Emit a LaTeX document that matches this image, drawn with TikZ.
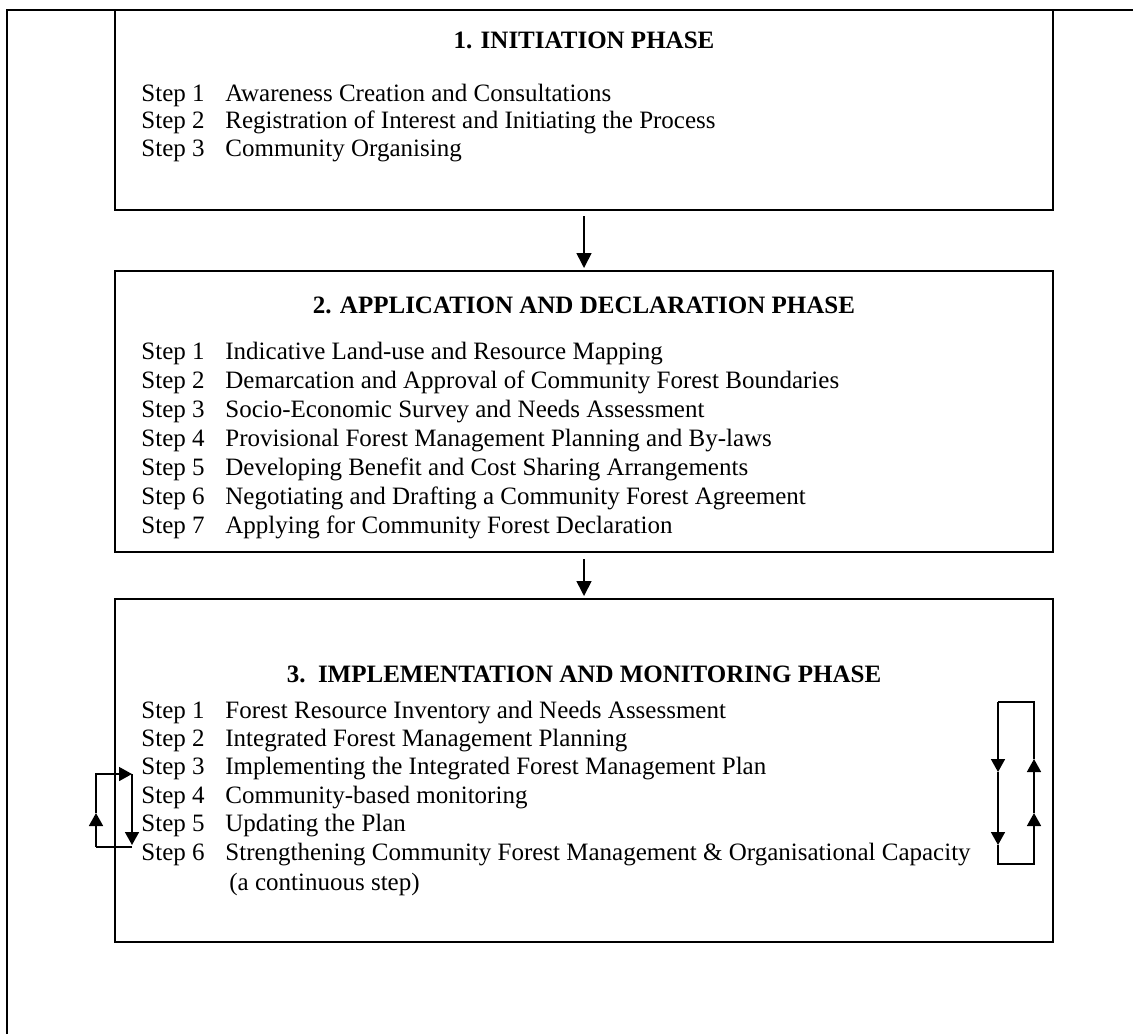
\documentclass[tikz,border=0pt]{standalone}
\usepackage{fontspec}
\setmainfont{Liberation Serif}
\usepackage{tikz}
\usetikzlibrary{arrows.meta,positioning,fit}

\tikzset{
  phasebox/.style={draw, line width=1pt, inner sep=0pt},
  phasetitle/.style={inner sep=0pt, font=\fontsize{12.5}{14}\selectfont\bfseries},
  steplabel/.style={anchor=west, inner sep=0pt, font=\fontsize{12.5}{14}\selectfont,
    text height=8.5pt, text depth=2.5pt},
  flowarrow/.style={line width=0.8pt, -{Triangle[length=7.5pt,width=7.5pt]}},
  loopline/.style={line width=0.8pt},
  looparrow/.style={line width=0.8pt, -{Triangle[length=6.5pt,width=7pt]}},
}

\begin{document}
\begin{tikzpicture}[x=0.5pt,y=-0.5pt]
  \useasboundingbox (0,0) rectangle (1133,1034);
  % Frame
  \draw[line width=1pt] (7,1034) -- (7,10) -- (1133,10);

  % 1. Initiation
  \node[phasebox, fit={(115,10) (1053,210)}] (init) {};
  \node[phasetitle] (initTitle) at (584,40) {1. INITIATION PHASE};
  \foreach \txt [count=\i] in {Awareness Creation and Consultations,
      Registration of Interest and Initiating the Process,
      Community Organising} {
    \node[steplabel] (initStep\i) at (141,{95+(\i-1)*27.5}) {Step \i};
    \node[steplabel] (initText\i) at (225,{95+(\i-1)*27.5}) {\txt};
  }

  % 2. Application and declaration
  \node[phasebox, fit={(115,271) (1053,552)}] (appl) {};
  \node[phasetitle] (applTitle) at (584,305) {2. APPLICATION AND DECLARATION PHASE};
  \foreach \txt [count=\i] in {Indicative Land-use and Resource Mapping,
      Demarcation and Approval of Community Forest Boundaries,
      Socio-Economic Survey and Needs Assessment,
      Provisional Forest Management Planning and By-laws,
      Developing Benefit and Cost Sharing Arrangements,
      Negotiating and Drafting a Community Forest Agreement,
      Applying for Community Forest Declaration} {
    \node[steplabel] (applStep\i) at (141,{353+(\i-1)*29}) {Step \i};
    \node[steplabel] (applText\i) at (225,{353+(\i-1)*29}) {\txt};
  }

  % 3. Implementation and monitoring
  \node[phasebox, fit={(115,599) (1053,942)}] (impl) {};
  \node[phasetitle] (implTitle) at (584,674) {3.\ \ IMPLEMENTATION AND MONITORING PHASE};
  \foreach \txt [count=\i] in {Forest Resource Inventory and Needs Assessment,
      Integrated Forest Management Planning,
      Implementing the Integrated Forest Management Plan,
      Community-based monitoring,
      Updating the Plan,
      Strengthening Community Forest Management \& Organisational Capacity} {
    \node[steplabel] (implStep\i) at (141,{712+(\i-1)*28.4}) {Step \i};
    \node[steplabel] (implText\i) at (225,{712+(\i-1)*28.4}) {\txt};
  }
  \node[steplabel] (implNote) at (229,884) {(a continuous step)};

  % Phase arrows
  \draw[flowarrow] ([yshift=-2.5pt]init.south) -- ([yshift=1pt]appl.north);
  \draw[flowarrow] ([yshift=-3pt]appl.south) -- ([yshift=1pt]impl.north);

  % Left loop
  \coordinate (lTL) at (96,774);
  \coordinate (lTR) at (132,774);
  \coordinate (lBL) at (96,847);
  \coordinate (lBR) at (132,847);
  \coordinate (lUp) at (96,813);
  \draw[looparrow] (lBL) -- (lUp);
  \draw[looparrow] (lUp) -- (lTL) -- (lTR);
  \draw[looparrow] (lTR) -- ([yshift=1pt]lBR);
  \draw[loopline] (lBR) -- (lBL);

  % Right loop
  \coordinate (rTL) at (998,702);
  \coordinate (rTR) at (1034,702);
  \coordinate (rBL) at (998,864);
  \coordinate (rBR) at (1034,864);
  \coordinate (rDownA) at (998,772);
  \coordinate (rDownB) at (998,845);
  \coordinate (rUpA) at (1034,813);
  \coordinate (rUpB) at (1034,759);
  \draw[looparrow] (rTL) -- (rDownA);
  \draw[looparrow] (rDownA) -- (rDownB);
  \draw[looparrow] (rDownB) -- (rBL) -- (rBR) -- (rUpA);
  \draw[looparrow] (rUpA) -- (rUpB);
  \draw[loopline] (rUpB) -- (rTR) -- (rTL);
\end{tikzpicture}
\end{document}
